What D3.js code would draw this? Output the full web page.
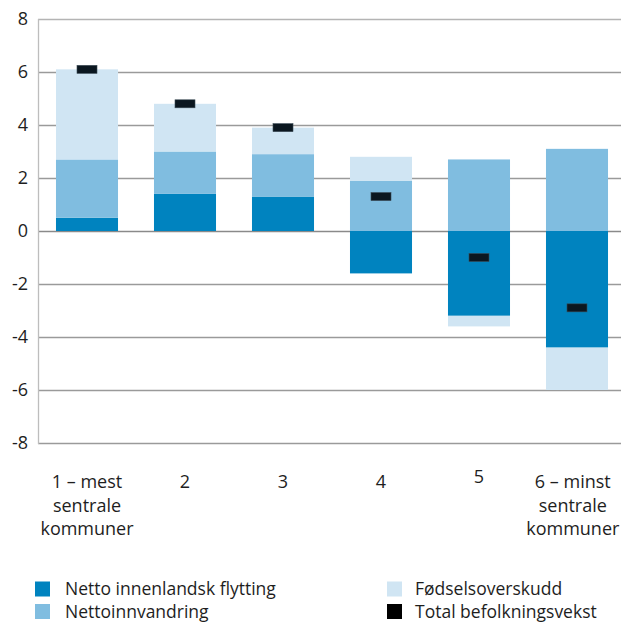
<!DOCTYPE html>
<html>
<head>
<meta charset="utf-8">
<script src="https://cdn.jsdelivr.net/npm/d3@7"></script>
<style>
  html, body { margin: 0; padding: 0; background: #fff; }
  svg { display: block; }
  svg text { font-family: "Open Sans", "Noto Sans", sans-serif; }
</style>
</head>
<body>
<svg id="chart" width="621" height="623"></svg>
<script>
// Population growth components by centrality class (percent)
const categories = ["1", "2", "3", "4", "5", "6"];
const categoryLabels = [
  ["1 – mest", "sentrale", "kommuner"],
  ["2"],
  ["3"],
  ["4"],
  ["5"],
  ["6 – minst", "sentrale", "kommuner"]
];
const seriesNames = ["Netto innenlandsk flytting", "Nettoinnvandring", "Fødselsoverskudd"];
const nettoInnenlandsk = [0.5, 1.4, 1.3, -1.6, -3.2, -4.4];
const nettoInnvandring = [2.2, 1.6, 1.6, 1.9, 2.7, 3.1];
const fodselsoverskudd = [3.4, 1.8, 1.0, 0.9, -0.4, -1.6];
const totalVekst = [6.1, 4.8, 3.9, 1.3, -1.0, -2.9];
const totalName = "Total befolkningsvekst";
const yTicks = [-8, -6, -4, -2, 0, 2, 4, 6, 8];

const colors = ["#0083bf", "#80bde0", "#d0e5f3"];
const totalColor = "#0b1720";
const textColor = "#1e1e1e";
const fontFamily = "'Open Sans', 'Noto Sans', sans-serif";
const width = 621;

const svg = d3.select("#chart");
const plot = { left: 38, right: 626, top: 19, bottom: 443 };

const y = d3.scaleLinear().domain([-8, 8]).range([plot.bottom, plot.top]);
const x = d3.scaleBand()
  .domain(categories)
  .range([plot.left, plot.right])
  .paddingInner(0.367)
  .paddingOuter(0.1835);

// Stack rows
const rows = categories.map((c, i) => ({
  cat: c,
  [seriesNames[0]]: nettoInnenlandsk[i],
  [seriesNames[1]]: nettoInnvandring[i],
  [seriesNames[2]]: fodselsoverskudd[i]
}));
const stacked = d3.stack()
  .keys(seriesNames)
  .offset(d3.stackOffsetDiverging)(rows);

// Y axis labels
const yAxis = d3.axisLeft(y).tickValues(yTicks).tickSize(0).tickPadding(10)
  .tickFormat(d3.format("d"));
const gy = svg.append("g").attr("transform", `translate(${plot.left},0)`).call(yAxis);
gy.attr("font-family", fontFamily).attr("font-size", 18);
gy.select(".domain").remove();
gy.selectAll(".tick text")
  .attr("x", -10)
  .attr("fill", textColor)
  .text(d => d < 0 ? "-" + Math.abs(d) : d);

// Horizontal grid lines
svg.append("g").selectAll("line")
  .data(yTicks)
  .join("line")
  .attr("x1", plot.left)
  .attr("x2", width)
  .attr("y1", d => Math.round(y(d)) + 0.5)
  .attr("y2", d => Math.round(y(d)) + 0.5)
  .attr("stroke", d => d === 0 ? "#8a8a8a" : (d === 8 ? "#b4b4b4" : "#9a9a9a"))
  .attr("stroke-width", 1.3);

// Left axis line
svg.append("line")
  .attr("x1", plot.left + 0.5).attr("x2", plot.left + 0.5)
  .attr("y1", y(8)).attr("y2", y(-8) + 1)
  .attr("stroke", "#bdbdbd").attr("stroke-width", 1.3);

// Stacked bars
svg.append("g").selectAll("g")
  .data(stacked)
  .join("g")
  .attr("fill", (d, i) => colors[i])
  .selectAll("rect")
  .data(d => d)
  .join("rect")
  .attr("x", d => x(d.data.cat))
  .attr("width", x.bandwidth())
  .attr("y", d => y(Math.max(d[0], d[1])))
  .attr("height", d => Math.abs(y(d[0]) - y(d[1])));

// Total growth markers
const mw = 20, mh = 8;
svg.append("g").selectAll("rect")
  .data(totalVekst)
  .join("rect")
  .attr("x", (d, i) => x(categories[i]) + x.bandwidth() / 2 - mw / 2)
  .attr("y", d => y(d) - mh / 2)
  .attr("width", mw)
  .attr("height", mh)
  .attr("fill", totalColor)
  .attr("stroke", "#3a4a55")
  .attr("stroke-width", 0.6);

// Category labels (multi-line, kept inside the canvas)
const xAxis = d3.axisBottom(x).tickSize(0).tickFormat("");
const gx = svg.append("g").attr("transform", `translate(0,${plot.bottom})`).call(xAxis);
gx.attr("font-family", fontFamily).attr("font-size", 18);
gx.select(".domain").remove();
gx.selectAll(".tick").each(function (d, i) {
  const t = d3.select(this).append("text")
    .attr("text-anchor", "middle")
    .attr("fill", textColor)
    .attr("y", d === "5" ? 40 : 45);
  categoryLabels[i].forEach((line, k) => {
    t.append("tspan").attr("x", 0).attr("dy", k === 0 ? 0 : 23.5).text(line);
  });
  const cx = x(d) + x.bandwidth() / 2;
  const bb = t.node().getBBox();
  const overflow = cx + bb.x + bb.width - (width - 1);
  if (overflow > 0) t.attr("transform", `translate(${-overflow},0)`);
});

// Legend
const legendItems = [
  { name: seriesNames[0], color: colors[0], col: 0, row: 0 },
  { name: seriesNames[1], color: colors[1], col: 0, row: 1 },
  { name: seriesNames[2], color: colors[2], col: 1, row: 0 },
  { name: totalName, color: "#000", col: 1, row: 1 }
];
const legend = svg.append("g")
  .attr("font-family", fontFamily)
  .attr("font-size", 17.5);
const li = legend.selectAll("g")
  .data(legendItems)
  .join("g")
  .attr("transform", d => `translate(${d.col === 0 ? 35 : 387},${589 + d.row * 22.5})`);
li.append("rect")
  .attr("x", 0).attr("y", -7.5)
  .attr("width", 15).attr("height", 15)
  .attr("fill", d => d.color);
li.append("text")
  .attr("x", d => d.col === 0 ? 30 : 28)
  .attr("y", 0)
  .attr("dy", "0.35em")
  .attr("fill", textColor)
  .text(d => d.name);
</script>
</body>
</html>
